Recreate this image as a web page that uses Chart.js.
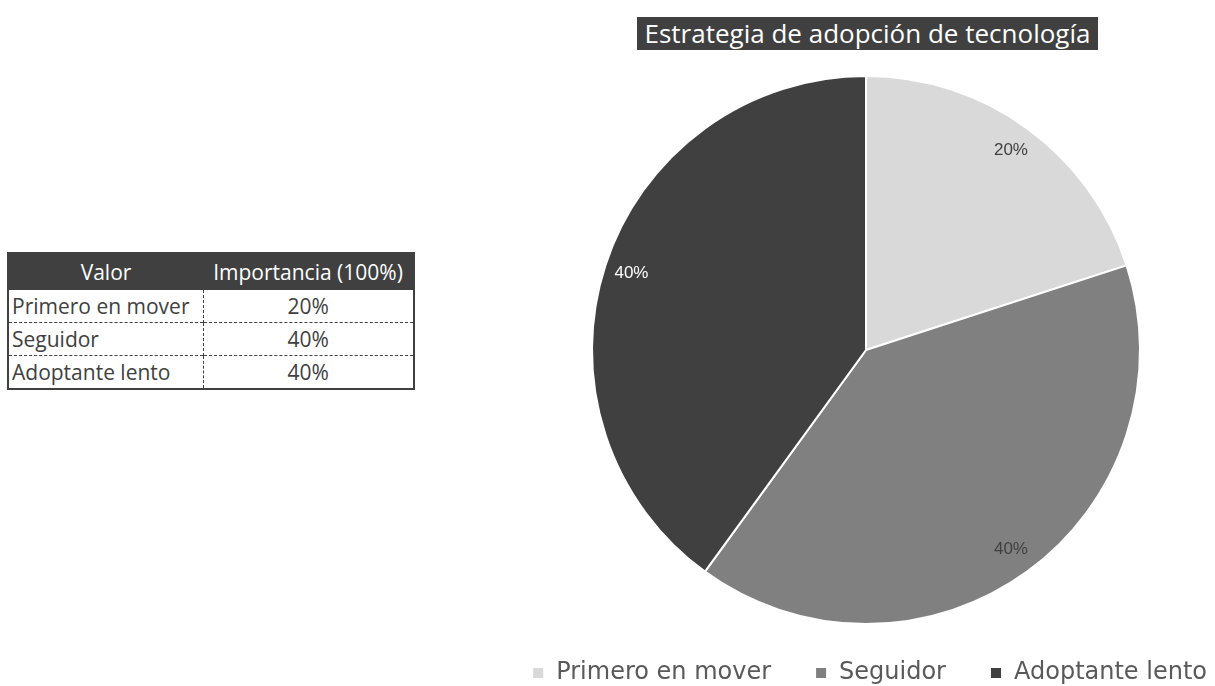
<!DOCTYPE html>
<html>
<head>
<meta charset="utf-8">
<script src="https://cdn.jsdelivr.net/npm/chart.js@4"></script>
<style>
  body{margin:0;width:1215px;height:686px;background:#fff;position:relative;overflow:hidden;font-family:"Open Sans",Lato,sans-serif}
  #tbl{position:absolute;left:7px;top:252px;border-collapse:collapse;border:2px solid #404040;font-size:21px;color:#404040}
  #tbl th{background:#404040;color:#fff;font-weight:normal;height:35px;padding:0 3px;white-space:nowrap}
  #tbl td{height:32px;padding:0 3px;border-top:1px dashed #404040;line-height:1;white-space:nowrap}
  #tbl td.v{text-align:center;border-left:1px dashed #404040}
  #tbl th.c1{width:188px}
  #tbl th.c2{width:204px}
  #title{position:absolute;left:637px;top:17px;width:461px;height:33px;background:#404040;color:#fff;font-size:26px;line-height:33px;text-align:center;white-space:nowrap}
  #wrap{position:absolute;left:481px;top:60px;width:770px;height:643px}
</style>
</head>
<body>
<table id="tbl"></table>
<div id="title">Estrategia de adopción de tecnología</div>
<div id="wrap"><canvas id="c"></canvas></div>
<script>
const labels = ['Primero en mover', 'Seguidor', 'Adoptante lento'];
const values = [20, 40, 40];
const colors = ['#d9d9d9', '#808080', '#404040'];
const labelColors = ['#404040', '#404040', '#ffffff'];

// tabla
let html = '<tr><th class="c1">Valor</th><th class="c2">Importancia (100%)</th></tr>';
labels.forEach((l, i) => { html += `<tr><td>${l}</td><td class="v">${values[i]}%</td></tr>`; });
document.getElementById('tbl').innerHTML = html;

// etiquetas de porcentaje
const pctLabels = {
  id: 'pctLabels',
  afterDatasetsDraw(chart){
    const ctx = chart.ctx;
    const meta = chart.getDatasetMeta(0);
    ctx.save();
    ctx.font = '17px "Liberation Sans", Arial, sans-serif';
    ctx.textAlign = 'center';
    ctx.textBaseline = 'middle';
    meta.data.forEach((arc, i) => {
      const mid = (arc.startAngle + arc.endAngle) / 2;
      const r = arc.outerRadius * 0.9;
      ctx.fillStyle = labelColors[i];
      ctx.fillText(values[i] + '%', arc.x + Math.cos(mid) * r, arc.y + Math.sin(mid) * r);
    });
    ctx.restore();
  }
};

// subir un poco la leyenda, más cerca del pastel
const legendUp = {
  id: 'legendUp',
  afterLayout(chart){
    const lg = chart.legend;
    if(lg){ lg.top -= 8; lg.bottom -= 8; }
  }
};

new Chart(document.getElementById('c'), {
  type: 'pie',
  data: {
    labels: labels,
    datasets: [{ data: values, backgroundColor: colors, borderColor: '#ffffff', borderWidth: 2 }]
  },
  options: {
    responsive: true,
    maintainAspectRatio: false,
    animation: false,
    layout: { padding: { top: 15, bottom: 0 } },
    plugins: {
      title: { display: false },
      tooltip: { enabled: false },
      legend: {
        position: 'bottom',
        align: 'end',
        labels: {
          boxWidth: 12, boxHeight: 12, padding: 44,
          color: '#595959',
          font: { family: 'DejaVu Sans', size: 24 }
        }
      }
    }
  },
  plugins: [pctLabels, legendUp]
});
</script>
</body>
</html>
